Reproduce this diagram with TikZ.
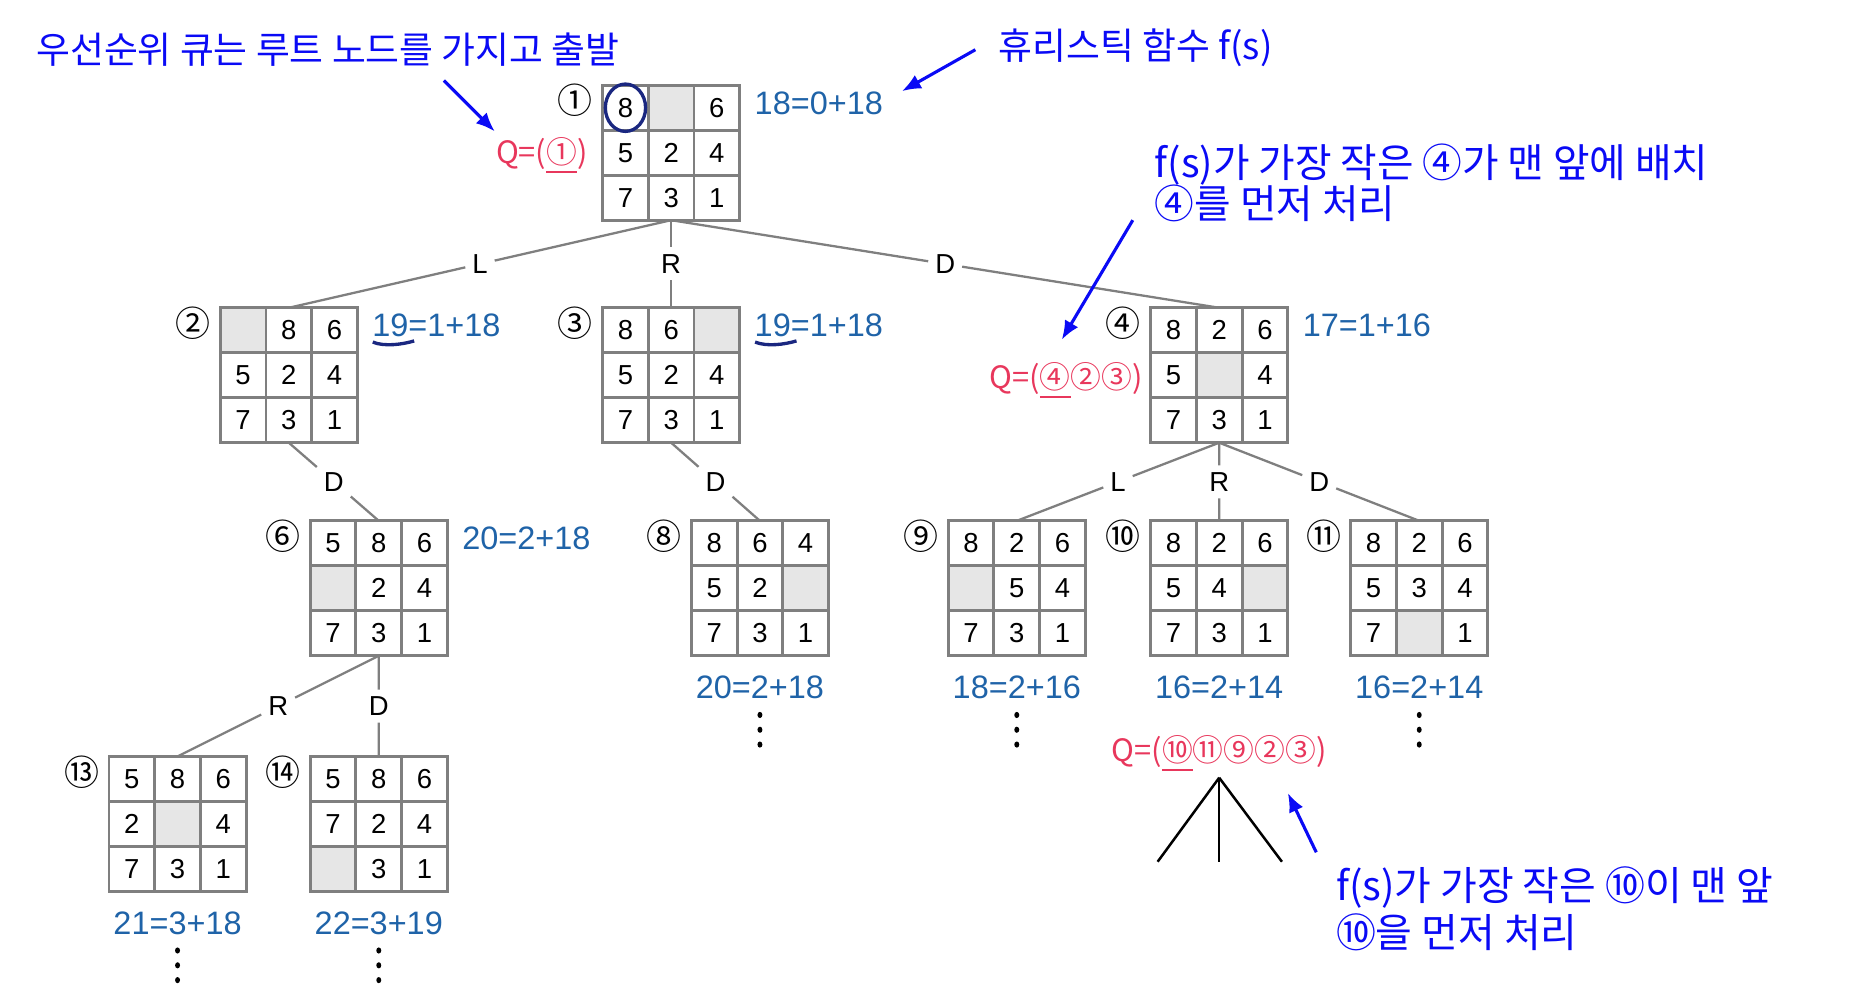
\documentclass[tikz,border=0pt]{standalone}
\usepackage{fontspec}
\setmainfont{Liberation Sans}
\newfontfamily\kr{Noto Sans CJK KR}
\usetikzlibrary{arrows.meta,positioning,calc}
\definecolor{notes}{HTML}{0A0AF5}
\definecolor{fvalue}{HTML}{1F63A8}
\definecolor{queue}{HTML}{E8375C}
\definecolor{scribble}{HTML}{1A2780}
\definecolor{frame}{HTML}{7F7F7F}
\definecolor{blank}{HTML}{E6E6E6}
\tikzset{
  boardbox/.style={minimum width=1.158cm,minimum height=1.14cm,inner sep=0pt,outer sep=0pt},
  boardline/.style={draw=frame,line width=0.7pt},
  tile/.style={font=\fontsize{6.6}{7}\selectfont,inner sep=0pt},
  blanktile/.style={fill=blank},
  treeline/.style={draw=frame,line width=0.55pt},
  moveletter/.style={font=\fontsize{6.6}{7}\selectfont,inner sep=1.5pt},
  idx/.style={font=\kr\fontsize{8.4}{8}\selectfont,inner sep=0pt},
  cost/.style={font=\fontsize{7.8}{8}\selectfont,text=fvalue,inner sep=0pt},
  queuelbl/.style={font=\kr\fontsize{7.4}{8}\selectfont,text=queue,inner sep=0pt},
  note/.style={font=\kr\fontsize{8.85}{10}\selectfont,text=notes,inner sep=0pt,align=left},
  bignote/.style={note,font=\kr\fontsize{9.55}{10}\selectfont},
  pointer/.style={-{Latex[length=1.6mm,width=1.3mm]},draw=notes,line width=0.75pt},
  scribbleline/.style={draw=scribble,line width=0.8pt},
  moredot/.style={fill=black},
  subtree/.style={draw=black,line width=0.6pt}
}
% one 3x3 board: name, centre, tiles (0 = empty)
\newcommand{\puzzle}[3]{%
  \node[boardbox] (#1) at (#2) {};
  \foreach \v [count=\k from 0] in {#3} {%
    \pgfmathtruncatemacro{\tcol}{mod(\k,3)}%
    \pgfmathtruncatemacro{\trow}{div(\k,3)}%
    \ifnum\v=0
      \fill[blanktile] ($(#1.north west)+(\tcol*0.386,-\trow*0.38)$) rectangle ++(0.386,-0.38);
    \else
      \node[tile] at ($(#1.north west)+(\tcol*0.386+0.193,-\trow*0.38-0.19)$) {\v};
    \fi
  }
  \foreach \i in {1,2} {
    \draw[boardline] ($(#1.north west)+(\i*0.386,0)$) -- ++(0,-1.14);
    \draw[boardline] ($(#1.north west)+(0,-\i*0.38)$) -- ++(1.158,0);
  }
  \draw[boardline] (#1.north west) rectangle (#1.south east);
}
\begin{document}
\begin{tikzpicture}
  \useasboundingbox (0,0) rectangle (15.68,-8.45);
  % boards
  \puzzle{s1}{5.67,-1.29}{8,0,6,5,2,4,7,3,1}
  \puzzle{s2}{2.44,-3.17}{0,8,6,5,2,4,7,3,1}
  \puzzle{s3}{5.67,-3.17}{8,6,0,5,2,4,7,3,1}
  \puzzle{s4}{10.30,-3.17}{8,2,6,5,0,4,7,3,1}
  \puzzle{s6}{3.20,-4.97}{5,8,6,0,2,4,7,3,1}
  \puzzle{s8}{6.42,-4.97}{8,6,4,5,2,0,7,3,1}
  \puzzle{s9}{8.59,-4.97}{8,2,6,0,5,4,7,3,1}
  \puzzle{s10}{10.30,-4.97}{8,2,6,5,4,0,7,3,1}
  \puzzle{s11}{11.99,-4.97}{8,2,6,5,3,4,7,0,1}
  \puzzle{s13}{1.50,-6.96}{5,8,6,2,0,4,7,3,1}
  \puzzle{s14}{3.20,-6.96}{5,8,6,7,2,4,0,3,1}
  % moves
  \foreach \a/\b/\l in {s1/s2/L, s1/s3/R, s1/s4/D, s2/s6/D, s3/s8/D,
      s4/s9/L, s4/s10/R, s4/s11/D, s6/s13/R, s6/s14/D} {
    \node[moveletter] (m\b) at ($(\a.south)!.5!(\b.north)$) {\l};
    \draw[treeline] (\a.south) -- (m\b) -- (\b.north);
  }
  % numbers
  \foreach \s/\n in {s1/①, s2/②, s3/③, s4/④, s6/⑥, s8/⑧, s9/⑨, s10/⑩,
      s11/⑪, s13/⑬, s14/⑭}
    \node[idx] (i\s) at ([xshift=-0.23cm,yshift=-0.13cm]\s.north west) {\n};
  % f(s) values
  \foreach \s/\t in {s1/18=0+18, s2/19=1+18, s3/19=1+18, s4/17=1+16, s6/20=2+18}
    \node[cost,anchor=west] (f\s) at ([xshift=0.12cm,yshift=-0.15cm]\s.north east) {\t};
  \foreach \s/\t in {s8/20=2+18, s9/18=2+16, s10/16=2+14, s11/16=2+14,
      s13/21=3+18, s14/22=3+19}
    \node[cost] (f\s) at ([yshift=-0.27cm]\s.south) {\t};
  \foreach \s in {fs8,fs9,fs11,fs13,fs14}
    \foreach \dy in {0.23,0.355,0.48}
      \fill[moredot] ([yshift=-\dy cm]\s.center) ellipse [x radius=0.021cm,y radius=0.026cm];
  % queues
  \node[queuelbl,anchor=east] (q1) at ([xshift=-0.12cm,yshift=-0.03cm]s1.west) {Q=(\underline{①})};
  \node[queuelbl,anchor=east] (q4) at ([xshift=-0.06cm,yshift=-0.05cm]s4.west) {Q=(\underline{④}②③)};
  \node[queuelbl] (q10) at ([yshift=-0.56cm]fs10.center) {Q=(\underline{⑩}⑪⑨②③)};
  \coordinate (top) at ([yshift=-0.20cm]q10.center);
  \foreach \dx [count=\j] in {-0.52,0,0.53} {
    \coordinate (leaf\j) at ($(top)+(\dx,-0.71)$);
    \draw[subtree] (top) -- (leaf\j);
  }
  % hand marks
  \draw[scribbleline] ([shift={(0.193,-0.19)}]s1.north west) ellipse [x radius=0.17cm,y radius=0.2cm];
  \foreach \s in {fs2,fs3}
    \draw[scribbleline] ([shift={(0.01,-0.14)}]\s.west) .. controls +(0.1,-0.04) and +(-0.1,-0.03) .. ([shift={(0.36,-0.13)}]\s.west);
  % notes
  \node[note,anchor=west] (n1) at (0.30,-0.42) {우선순위 큐는 루트 노드를 가지고 출발};
  \node[note,anchor=west] (n2) at (8.43,-0.40) {휴리스틱 함수 f(s)};
  \node[bignote,anchor=west] (n3) at (9.75,-1.545) {f(s)가 가장 작은 ④가 맨 앞에 배치\\④를 먼저 처리};
  \node[bignote,anchor=west,font=\kr\fontsize{9.6}{11.4}\selectfont] (n4) at (11.28,-7.68) {f(s)가 가장 작은 ⑩이 맨 앞\\⑩을 먼저 처리};
  \coordinate (p1) at (3.75,-0.68);  \coordinate (p1e) at (4.18,-1.11);
  \coordinate (p2) at (8.24,-0.42);  \coordinate (p2e) at (7.62,-0.77);
  \coordinate (p3) at (9.57,-1.86);  \coordinate (p3e) at (8.97,-2.87);
  \coordinate (p4) at (11.12,-7.20); \coordinate (p4e) at (10.88,-6.70);
  \foreach \p in {p1,p2,p3,p4}
    \draw[pointer] (\p) -- (\p e);
\end{tikzpicture}
\end{document}
